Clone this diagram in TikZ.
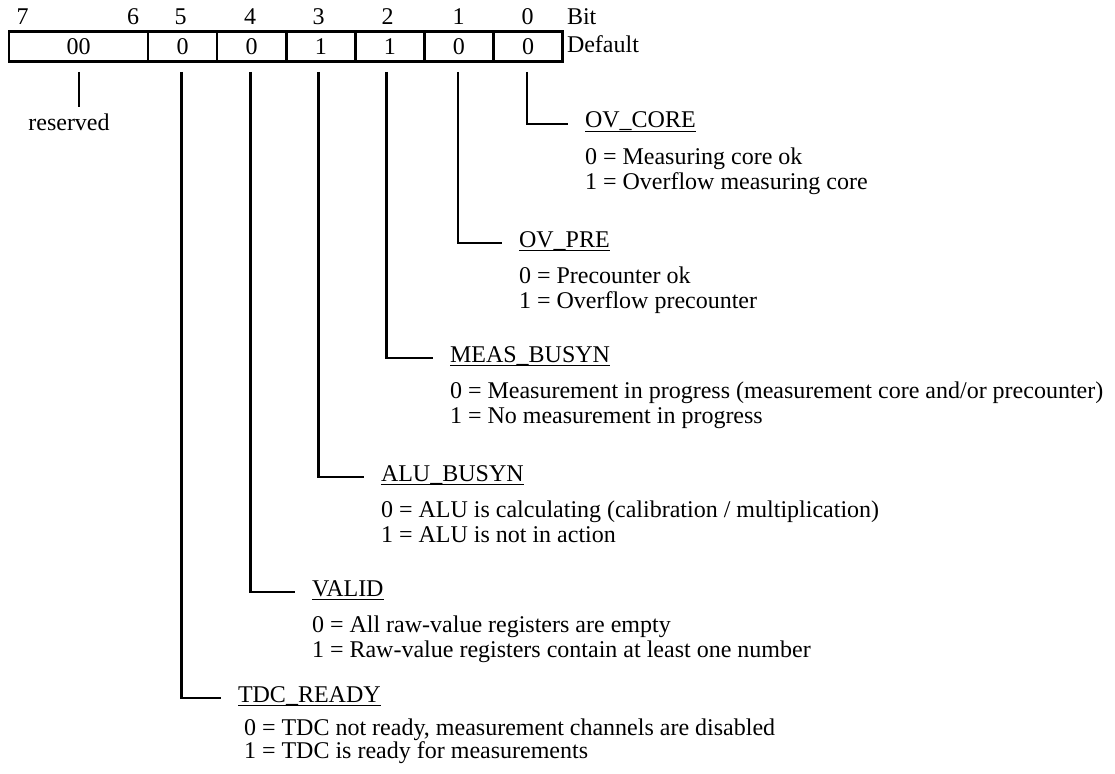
\documentclass[tikz,border=0pt]{standalone}
\usepackage{fontspec}
\setmainfont{Liberation Serif}
\begin{document}
\begin{tikzpicture}[x=1pt,y=-1pt,
  every node/.style={inner sep=0pt, outer sep=0pt, font=\fontsize{24}{26}\selectfont},
  cell/.style={draw, line width=2.6pt, minimum height=30pt, minimum width=69.1pt},
  wire/.style={line width=2.6pt},
  txt/.style={anchor=base west},
  num/.style={anchor=base},
  uline/.style={line width=1.4pt},
]
\useasboundingbox (0,0) rectangle (1115,773);

% register cells
\node[cell, minimum width=139pt] (r76) at (78.5,46.5) {00};
\node[cell] (r5) at (182.55,46.5) {0};
\node[cell] (r4) at (251.65,46.5) {0};
\node[cell] (r3) at (320.75,46.5) {1};
\node[cell] (r2) at (389.85,46.5) {1};
\node[cell] (r1) at (458.95,46.5) {0};
\node[cell] (r0) at (528.05,46.5) {0};

% bit numbers
\node[num] (b7) at (22.7,25) {7};
\node[num] (b6) at (133,25) {6};
\node[num] (b5) at (180.5,25) {5};
\node[num] (b4) at (250,25) {4};
\node[num] (b3) at (318.5,25) {3};
\node[num] (b2) at (387.5,25) {2};
\node[num] (b1) at (458.5,25) {1};
\node[num] (b0) at (527.5,25) {0};
\node[txt] (bit) at (567,25) {Bit};
\node[txt] (dflt) at (567,53) {Default};

% reserved bits
\coordinate (t76) at (79,72);
\node[num] (res) at (69,131) {reserved};
\draw[wire, shorten >=7pt] (t76) -- (t76 |- res.north);

% connector start points below the cells
\coordinate (t5) at (181.7,72);
\coordinate (t4) at (250.7,72);
\coordinate (t3) at (318.3,72);
\coordinate (t2) at (386.7,72);
\coordinate (t1) at (458,72);
\coordinate (t0) at (527,72);

% bit 0
\node[txt] (n0) at (585,128) {OV\_CORE};
\node[txt] (n0a) at (585,164) {0 = Measuring core ok};
\node[txt] (n0b) at (585,189) {1 = Overflow measuring core};
% bit 1
\node[txt] (n1) at (519,247) {OV\_PRE};
\node[txt] (n1a) at (519,283) {0 = Precounter ok};
\node[txt] (n1b) at (519,308) {1 = Overflow precounter};
% bit 2
\node[txt] (n2) at (450,362) {MEAS\_BUSYN};
\node[txt] (n2a) at (450,398) {0 = Measurement in progress (measurement core and/or precounter)};
\node[txt] (n2b) at (450,423) {1 = No measurement in progress};
% bit 3
\node[txt] (n3) at (381,481) {ALU\_BUSYN};
\node[txt] (n3a) at (381,517) {0 = ALU is calculating (calibration / multiplication)};
\node[txt] (n3b) at (381,542) {1 = ALU is not in action};
% bit 4
\node[txt] (n4) at (312,596) {VALID};
\node[txt] (n4a) at (312,632) {0 = All raw-value registers are empty};
\node[txt] (n4b) at (312,657) {1 = Raw-value registers contain at least one number};
% bit 5
\node[txt] (n5) at (238,702) {TDC\_READY};
\node[txt] (n5a) at (244,735) {0 = TDC not ready, measurement channels are disabled};
\node[txt] (n5b) at (244,758) {1 = TDC is ready for measurements};

% connectors and underlines
\foreach \i in {0,...,5}{
  \draw[wire] (t\i) |- ([xshift=-17pt,yshift=4pt]n\i.base west);
  \draw[uline] ([yshift=-3.5pt]n\i.base west) -- ([yshift=-3.5pt]n\i.base east);
}
\end{tikzpicture}
\end{document}
